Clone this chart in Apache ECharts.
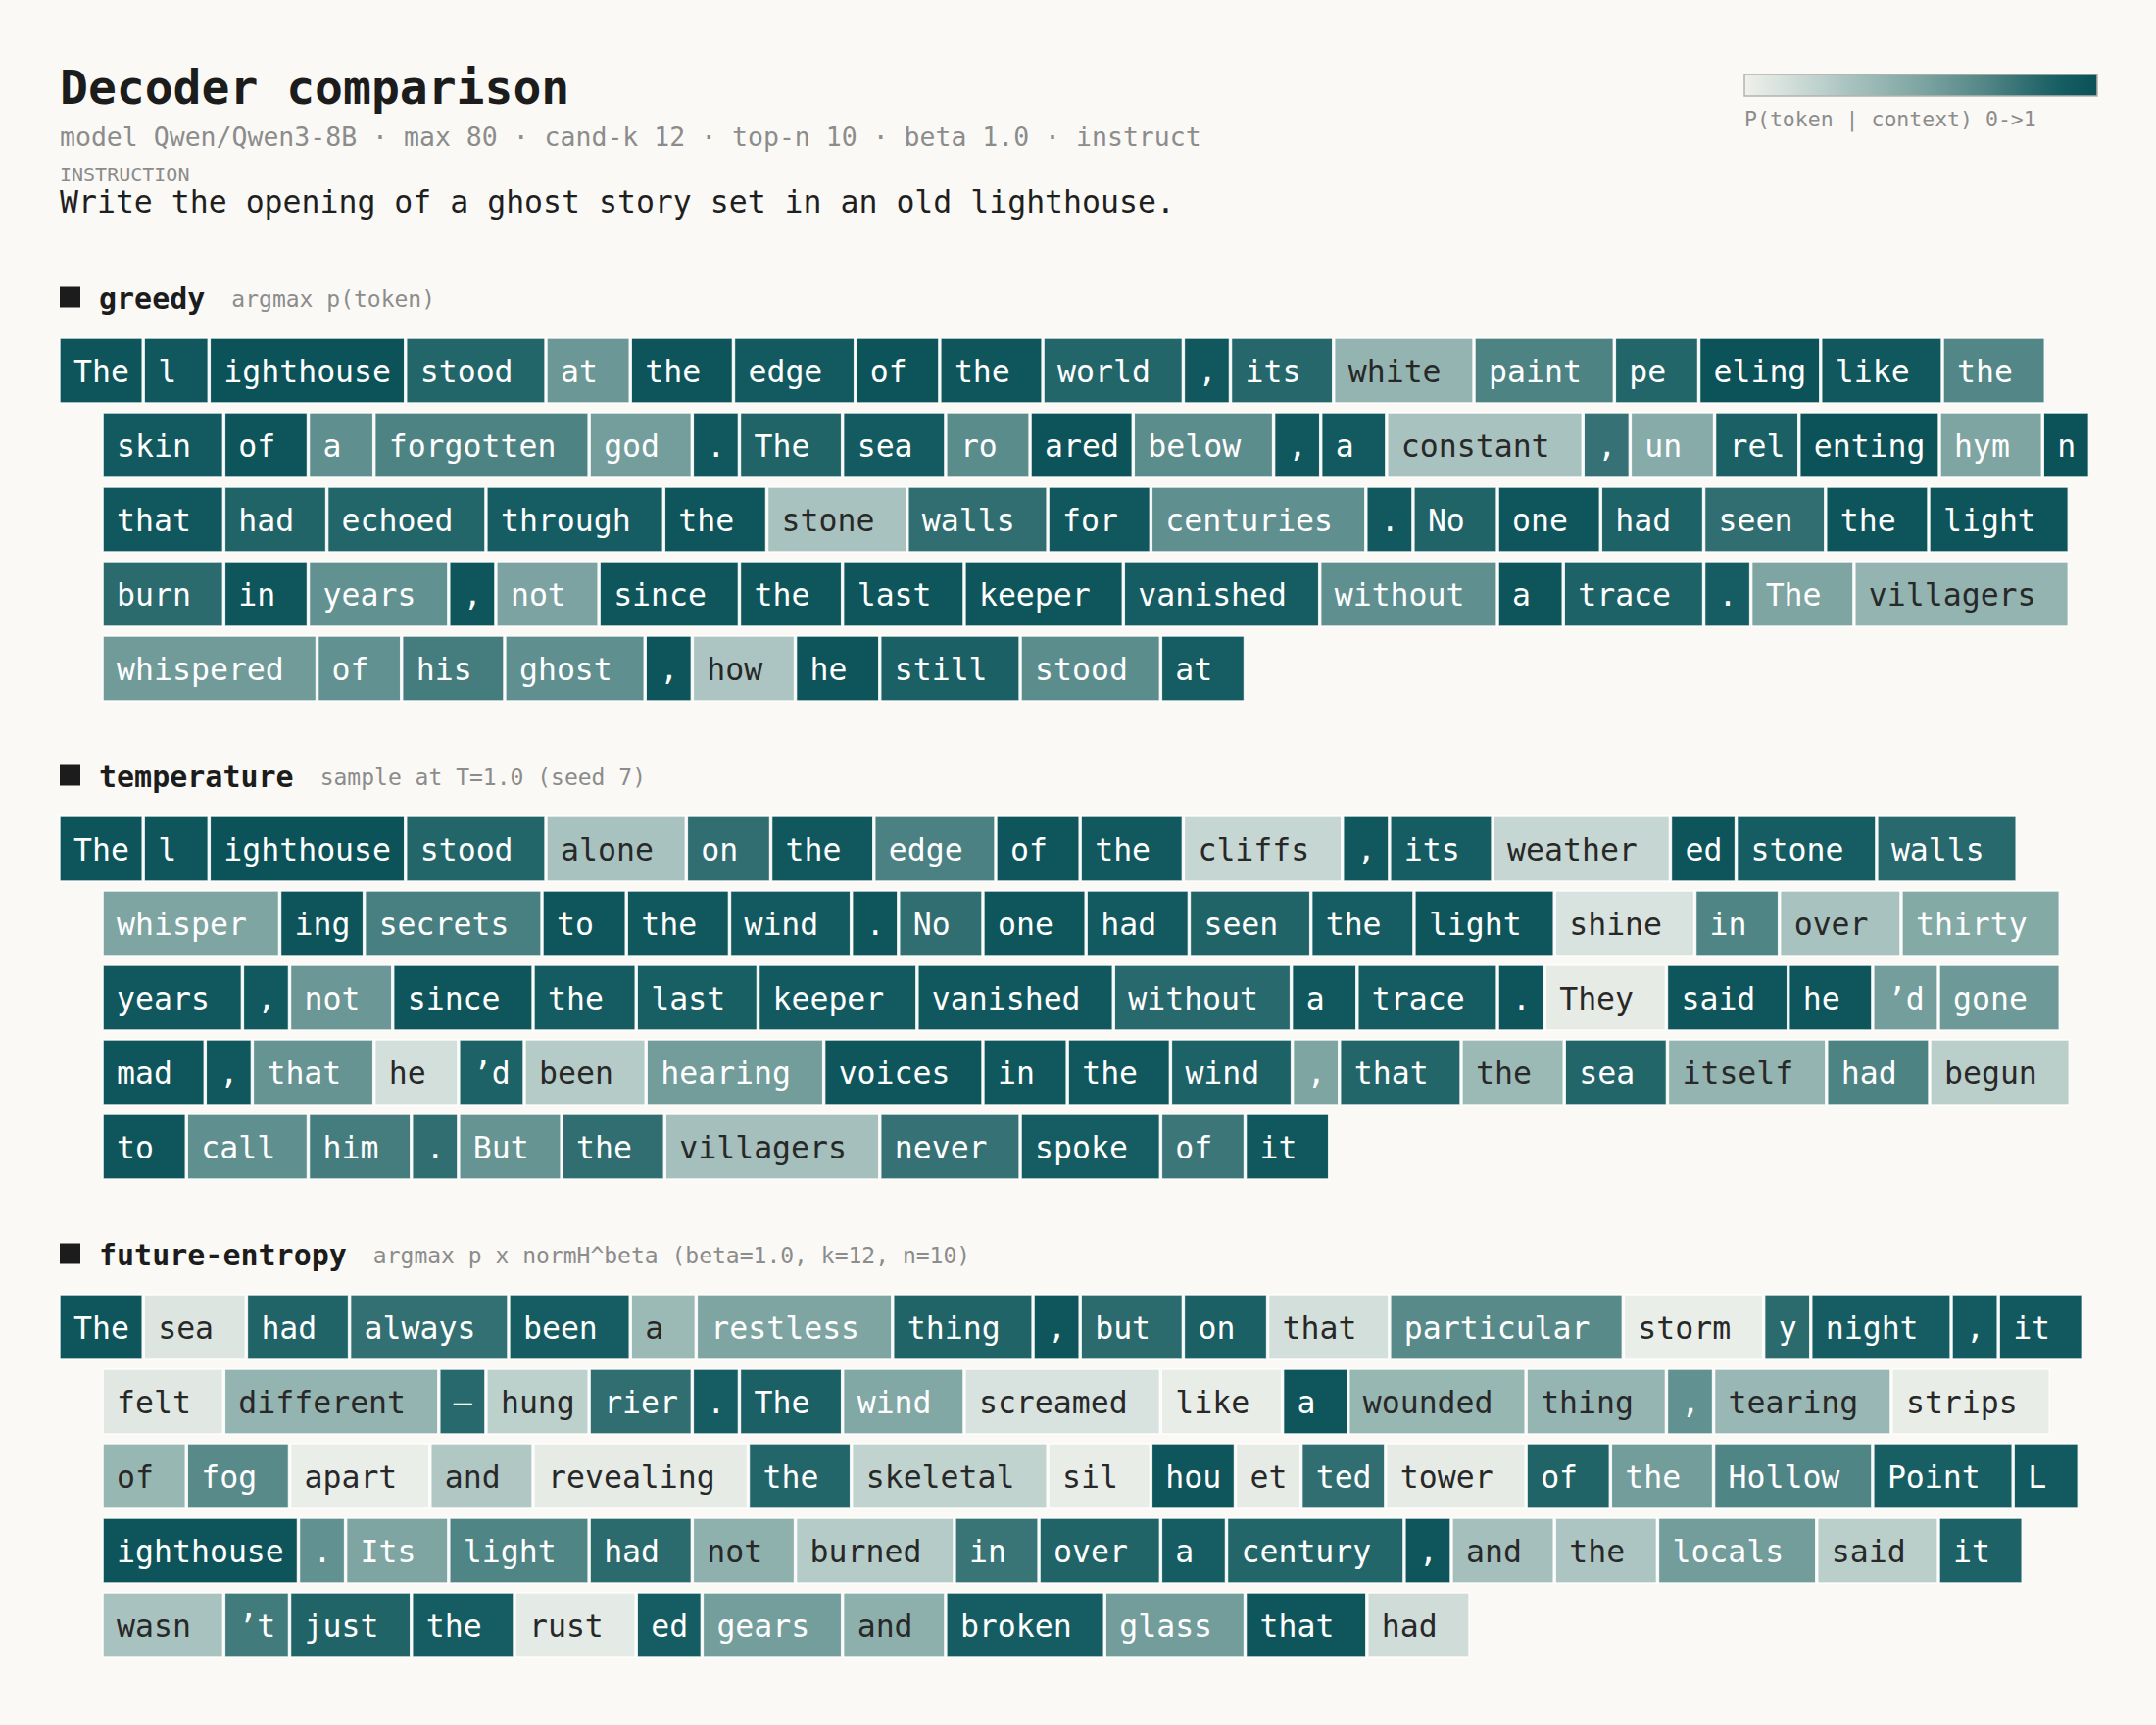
<!DOCTYPE html>
<html><head><meta charset="utf-8">
<script src="https://cdn.jsdelivr.net/npm/echarts@6/dist/echarts.min.js"></script>
<style>html,body{margin:0;padding:0;background:#faf9f5}#c{width:2200px;height:1760px}</style>
</head><body><div id="c"></div><script>
// ---------- data ----------
const sectionNames = ["greedy", "temperature", "future-entropy"];
const sectionNotes = ["argmax p(token)", "sample at T=1.0 (seed 7)", "argmax p x normH^beta (beta=1.0, k=12, n=10)"];

const greedyTokens = ["The"," l","ighthouse"," stood"," at"," the"," edge"," of"," the"," world",","," its"," white"," paint"," pe","eling"," like"," the",
" skin"," of"," a"," forgotten"," god","."," The"," sea"," ro","ared"," below",","," a"," constant",","," un","rel","enting"," hym","n",
" that"," had"," echoed"," through"," the"," stone"," walls"," for"," centuries","."," No"," one"," had"," seen"," the"," light",
" burn"," in"," years",","," not"," since"," the"," last"," keeper"," vanished"," without"," a"," trace","."," The"," villagers",
" whispered"," of"," his"," ghost",","," how"," he"," still"," stood"," at"];
const greedyP = [0.97,0.95,0.99,0.85,0.58,0.97,0.93,0.98,0.96,0.85,0.95,0.84,0.40,0.70,0.85,0.99,0.95,0.68,
0.93,0.97,0.63,0.70,0.54,0.95,0.86,0.92,0.65,0.98,0.64,0.95,0.93,0.30,0.78,0.46,0.88,0.99,0.50,0.99,
0.95,0.86,0.85,0.90,0.96,0.30,0.80,0.95,0.63,0.94,0.86,0.96,0.87,0.80,0.97,0.97,
0.82,0.96,0.62,0.96,0.51,0.96,0.96,0.96,0.96,0.90,0.63,0.97,0.87,0.90,0.50,0.40,
0.56,0.62,0.73,0.63,0.97,0.28,0.97,0.88,0.64,0.90];

const tempTokens = ["The"," l","ighthouse"," stood"," alone"," on"," the"," edge"," of"," the"," cliffs",","," its"," weather","ed"," stone"," walls",
" whisper","ing"," secrets"," to"," the"," wind","."," No"," one"," had"," seen"," the"," light"," shine"," in"," over"," thirty",
" years",","," not"," since"," the"," last"," keeper"," vanished"," without"," a"," trace","."," They"," said"," he","\u2019d"," gone",
" mad",","," that"," he","\u2019d"," been"," hearing"," voices"," in"," the"," wind",","," that"," the"," sea"," itself"," had"," begun",
" to"," call"," him","."," But"," the"," villagers"," never"," spoke"," of"," it"];
const tempP = [0.97,0.96,0.99,0.85,0.30,0.80,0.95,0.71,0.96,0.94,0.18,0.95,0.90,0.18,0.97,0.90,0.83,
0.50,0.97,0.72,0.96,0.95,0.93,0.96,0.80,0.96,0.93,0.86,0.90,0.96,0.10,0.69,0.30,0.47,
0.95,0.94,0.58,0.96,0.91,0.89,0.93,0.95,0.83,0.95,0.91,0.97,0.04,0.96,0.96,0.54,0.57,
0.96,0.95,0.60,0.12,0.87,0.25,0.55,0.96,0.95,0.95,0.87,0.50,0.85,0.36,0.85,0.40,0.70,0.23,
0.96,0.63,0.73,0.80,0.60,0.80,0.32,0.78,0.90,0.76,0.95];

const futureTokens = ["The"," sea"," had"," always"," been"," a"," restless"," thing",","," but"," on"," that"," particular"," storm","y"," night",","," it",
" felt"," different","\u2014","hung","rier","."," The"," wind"," screamed"," like"," a"," wounded"," thing",","," tearing"," strips",
" of"," fog"," apart"," and"," revealing"," the"," skeletal"," sil","hou","et","ted"," tower"," of"," the"," Hollow"," Point"," L",
"ighthouse","."," Its"," light"," had"," not"," burned"," in"," over"," a"," century",","," and"," the"," locals"," said"," it",
" wasn","\u2019t"," just"," the"," rust","ed"," gears"," and"," broken"," glass"," that"," had"];
const futureP = [0.96,0.08,0.86,0.79,0.90,0.36,0.50,0.86,0.96,0.82,0.88,0.12,0.66,0.02,0.82,0.90,0.92,0.94,
0.06,0.40,0.83,0.22,0.80,0.90,0.88,0.48,0.10,0.03,0.96,0.38,0.39,0.62,0.37,0.03,
0.38,0.66,0.02,0.27,0.04,0.85,0.20,0.03,0.96,0.04,0.80,0.04,0.86,0.55,0.69,0.89,0.93,
0.97,0.62,0.50,0.69,0.82,0.42,0.25,0.77,0.86,0.90,0.85,0.96,0.32,0.28,0.55,0.23,0.87,
0.30,0.74,0.86,0.90,0.05,0.90,0.54,0.43,0.90,0.55,0.96,0.14];

const colorStops = ["#eff1ec","#d8e2de","#c1d3cf","#a8c2bf","#93b4b0","#7ea5a2","#669493","#4e8384","#306e71","#155d62","#0a5257"];

// ---------- layout (in character units) ----------
const CHAR_PX = 19.04, PAD = 29 / 19, GAP = 2 / 19, INDENT = 44 / 19, LIMIT = 110, CELL_H = 66 / 76;
const SECTION_TOP = 345, SECTION_STEP = 488, ROW_PX = 76, GRID_LEFT = 61;
const FONT = "DejaVu Sans Mono";

function layout(tokens, probs) {
  let x = 0, row = 0;
  const out = [];
  tokens.forEach((t, i) => {
    const w = t.length + PAD;
    if (i > 0 && x + w - GAP > LIMIT) { row++; x = INDENT; }
    out.push({ value: [x, row, w - GAP, probs[i]], label: t.trim() });
    x += w;
  });
  return out;
}
const laid = [layout(greedyTokens, greedyP), layout(tempTokens, tempP), layout(futureTokens, futureP)];

function makeRender(s) {
  return function (params, api) {
    const d = laid[s][params.dataIndex];
    const a = api.coord([api.value(0), api.value(1)]);
    const b = api.coord([api.value(0) + api.value(2), api.value(1) + CELL_H]);
    const p = api.value(3);
    return { type: 'group', children: [
      { type: 'rect', shape: { x: a[0], y: a[1], width: b[0] - a[0], height: b[1] - a[1] },
        style: { fill: api.visual('color'), stroke: 'rgba(255,255,255,0.85)', lineWidth: 1.5 } },
      { type: 'text', x: a[0] + 14, y: (a[1] + b[1]) / 2 + 1,
        style: { text: d.label, fill: p >= 0.45 ? '#ffffff' : '#282828', fontSize: 31.5, fontFamily: FONT,
                 verticalAlign: 'middle', align: 'left' } }
    ] };
  };
}

const grids = [], xAxes = [], yAxes = [], series = [], graphics = [];
for (let s = 0; s < 3; s++) {
  const top = SECTION_TOP + SECTION_STEP * s;
  grids.push({ left: GRID_LEFT, top: top, width: LIMIT * CHAR_PX, height: 5 * ROW_PX });
  xAxes.push({ type: 'value', gridIndex: s, min: 0, max: LIMIT, show: false });
  yAxes.push({ type: 'value', gridIndex: s, min: 0, max: 5, inverse: true, show: false });
  series.push({ type: 'custom', xAxisIndex: s, yAxisIndex: s, data: laid[s], renderItem: makeRender(s),
                encode: { x: [0, 2], y: 1 }, animation: false, silent: true });
  const hy = top - 42;
  graphics.push({ type: 'rect', left: 61, top: hy - 10.5, shape: { width: 21, height: 21 }, style: { fill: '#1c1c1c' } });
  graphics.push({ type: 'text', x: 101, y: hy + 1, style: { text: sectionNames[s], fill: '#1c1c1c', fontSize: 30, fontWeight: 'bold', fontFamily: FONT, verticalAlign: 'middle' } });
  graphics.push({ type: 'text', x: 101 + sectionNames[s].length * 18.06 + 27, y: hy + 2, style: { text: sectionNotes[s], fill: '#8c8c8c', fontSize: 23, fontFamily: FONT, verticalAlign: 'middle' } });
}

graphics.push(
  { type: 'text', x: 61, y: 89, style: { text: 'Decoder comparison', fill: '#1c1c1c', fontSize: 48, fontWeight: 'bold', fontFamily: FONT, verticalAlign: 'middle' } },
  { type: 'text', x: 61, y: 139, style: { text: 'model Qwen/Qwen3-8B \u00b7 max 80 \u00b7 cand-k 12 \u00b7 top-n 10 \u00b7 beta 1.0 \u00b7 instruct', fill: '#8c8c8c', fontSize: 26.5, fontFamily: FONT, verticalAlign: 'middle' } },
  { type: 'text', x: 61, y: 178, style: { text: 'INSTRUCTION', fill: '#8c8c8c', fontSize: 20, fontFamily: FONT, verticalAlign: 'middle' } },
  { type: 'text', x: 61, y: 206, style: { text: 'Write the opening of a ghost story set in an old lighthouse.', fill: '#1f1f1f', fontSize: 31.5, fontFamily: FONT, verticalAlign: 'middle' } },
  { type: 'rect', shape: { x: 1780, y: 76, width: 360, height: 22 },
    style: { fill: { type: 'linear', x: 0, y: 0, x2: 1, y2: 0, colorStops: colorStops.map((c, i) => ({ offset: i / (colorStops.length - 1), color: c })) },
             stroke: '#b5b3ab', lineWidth: 1.5 } },
  { type: 'text', x: 1780, y: 121, style: { text: 'P(token | context) 0->1', fill: '#8c8c8c', fontSize: 21.5, fontFamily: FONT, verticalAlign: 'middle' } }
);

const chart = echarts.init(document.getElementById('c'), null, { renderer: 'svg' });
chart.setOption({
  backgroundColor: '#faf9f5',
  animation: false,
  grid: grids, xAxis: xAxes, yAxis: yAxes,
  visualMap: { type: 'continuous', min: 0, max: 1, dimension: 3, seriesIndex: [0, 1, 2], show: false,
               inRange: { color: colorStops } },
  series: series,
  graphic: graphics
});
</script></body></html>
